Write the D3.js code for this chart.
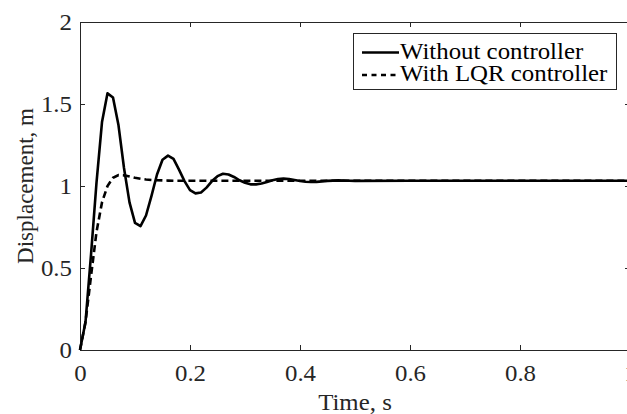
<!DOCTYPE html>
<html>
<head>
<meta charset="utf-8">
<script src="https://cdn.jsdelivr.net/npm/d3@7"></script>
<style>
  body { margin: 0; background: #fff; }
  svg { display: block; }
</style>
</head>
<body>
<svg width="627" height="414"></svg>
<script>
// time samples (s)
const time = [0, 0.01, 0.02, 0.03, 0.04, 0.05, 0.06, 0.07, 0.08, 0.09,
  0.10, 0.11, 0.12, 0.13, 0.14, 0.15, 0.16, 0.17, 0.18, 0.19,
  0.20, 0.21, 0.22, 0.23, 0.24, 0.25, 0.26, 0.27, 0.28, 0.29,
  0.30, 0.31, 0.32, 0.33, 0.34, 0.35, 0.36, 0.37, 0.38, 0.39,
  0.40, 0.41, 0.42, 0.43, 0.44, 0.45, 0.46, 0.47, 0.48, 0.49,
  0.50, 0.60, 0.70, 0.80, 0.90, 1.00];

// displacement without controller
const withoutCtrl = [0, 0.17, 0.58, 1.02, 1.39, 1.565, 1.54, 1.37, 1.11, 0.90,
  0.775, 0.755, 0.82, 0.94, 1.07, 1.16, 1.185, 1.165, 1.10, 1.03,
  0.975, 0.955, 0.96, 0.99, 1.03, 1.06, 1.075, 1.07, 1.055, 1.035,
  1.02, 1.01, 1.01, 1.015, 1.025, 1.035, 1.043, 1.045, 1.043, 1.037,
  1.031, 1.026, 1.024, 1.025, 1.028, 1.031, 1.033, 1.034, 1.033, 1.032,
  1.031, 1.032, 1.032, 1.032, 1.032, 1.032];

// displacement with LQR controller
const withLqr = [0, 0.17, 0.45, 0.72, 0.90, 1.00, 1.05, 1.067, 1.065, 1.058,
  1.05, 1.044, 1.04, 1.037, 1.035, 1.034, 1.033, 1.032, 1.032, 1.032,
  1.032, 1.032, 1.032, 1.032, 1.032, 1.032, 1.032, 1.032, 1.032, 1.032,
  1.032, 1.032, 1.032, 1.032, 1.032, 1.032, 1.032, 1.032, 1.032, 1.032,
  1.032, 1.032, 1.032, 1.032, 1.032, 1.032, 1.032, 1.032, 1.032, 1.032,
  1.032, 1.032, 1.032, 1.032, 1.032, 1.032];

const xTicks = [0, 0.2, 0.4, 0.6, 0.8, 1];
const yTicks = [0, 0.5, 1, 1.5, 2];
const legendLabels = ["Without controller", "With LQR controller"];

const svg = d3.select("svg");
const axisColor = "#262626";
const FONT = "Liberation Serif";
const FSIZE = 23;
const STRETCH = 1.08; // reference text is a bit wider than plain Times

function widen(sel) {
  sel.each(function() {
    const w = this.getComputedTextLength();
    d3.select(this).attr("textLength", w * STRETCH).attr("lengthAdjust", "spacingAndGlyphs");
  });
}

const x = d3.scaleLinear().domain([0, 1]).range([80, 630]);
const y = d3.scaleLinear().domain([0, 2]).range([350, 22]);

// bottom axis
const gx = svg.append("g")
  .attr("transform", `translate(0,${y(0)})`)
  .call(d3.axisBottom(x).tickValues(xTicks).tickSizeInner(-5).tickSizeOuter(0)
    .tickPadding(15).tickFormat(d3.format("")));
// top axis (ticks only)
const gxt = svg.append("g")
  .attr("transform", `translate(0,${y(2)})`)
  .call(d3.axisTop(x).tickValues(xTicks).tickSizeInner(-5).tickSizeOuter(0).tickFormat(""));
// left axis
const gy = svg.append("g")
  .attr("transform", `translate(${x(0)},0)`)
  .call(d3.axisLeft(y).tickValues(yTicks).tickSizeInner(-5).tickSizeOuter(0)
    .tickPadding(8).tickFormat(d3.format("")));
// right axis (ticks only)
const gyr = svg.append("g")
  .attr("transform", `translate(${x(1)},0)`)
  .call(d3.axisRight(y).tickValues(yTicks).tickSizeInner(-5).tickSizeOuter(0).tickFormat(""));

[gx, gxt, gy, gyr].forEach(g => {
  g.attr("font-family", FONT).attr("font-size", FSIZE);
  g.select(".domain").attr("stroke", axisColor).attr("stroke-width", 1);
  g.selectAll(".tick line").attr("stroke", axisColor).attr("stroke-width", 1);
  g.selectAll(".tick text").attr("fill", axisColor);
});
gx.selectAll(".tick text").attr("dy", "0.71em").call(widen);
gy.selectAll(".tick text").attr("dy", "0.34em").call(widen);

// axis labels
svg.append("text")
  .attr("x", (x(0) + x(1)) / 2)
  .attr("y", 410)
  .attr("text-anchor", "middle")
  .attr("fill", axisColor)
  .attr("font-family", FONT)
  .attr("font-size", FSIZE)
  .text("Time, s")
  .call(widen);

svg.append("text")
  .attr("transform", `translate(33,${(y(0) + y(2)) / 2}) rotate(-90)`)
  .attr("text-anchor", "middle")
  .attr("fill", axisColor)
  .attr("font-family", FONT)
  .attr("font-size", FSIZE)
  .text("Displacement, m");

// lines
const line = d3.line().x((d, i) => x(time[i])).y(d => y(d));

svg.append("path")
  .datum(withoutCtrl)
  .attr("d", line)
  .attr("fill", "none")
  .attr("stroke", "#000")
  .attr("stroke-width", 2.6)
  .attr("stroke-linejoin", "round");

svg.append("path")
  .datum(withLqr)
  .attr("d", line)
  .attr("fill", "none")
  .attr("stroke", "#000")
  .attr("stroke-width", 2.6)
  .attr("stroke-dasharray", "7,4");

// legend
const legend = svg.append("g");
legend.append("rect")
  .attr("x", 353.5).attr("y", 33.5)
  .attr("width", 263).attr("height", 56)
  .attr("fill", "#fff")
  .attr("stroke", axisColor)
  .attr("stroke-width", 1);

legendLabels.forEach((label, i) => {
  const cy = 52.5 + i * 22.5;
  legend.append("line")
    .attr("x1", 362).attr("x2", 399)
    .attr("y1", cy).attr("y2", cy)
    .attr("stroke", "#000")
    .attr("stroke-width", 2.6)
    .attr("stroke-dasharray", i === 1 ? "5,4.5" : null);
  legend.append("text")
    .attr("x", 400)
    .attr("y", cy + 6)
    .attr("fill", "#000")
    .attr("font-family", FONT)
    .attr("font-size", FSIZE)
    .text(label)
    .call(widen);
});
</script>
</body>
</html>
